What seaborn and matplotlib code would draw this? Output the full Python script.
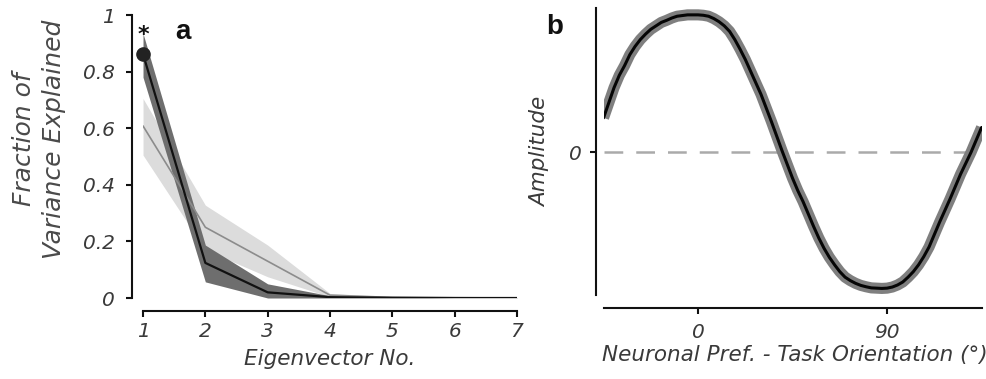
import matplotlib
matplotlib.use("Agg")
import matplotlib.pyplot as plt
import seaborn as sns

# ---------------- data ----------------
eig = [1, 2, 3, 4, 5, 6, 7]
data_mean = [0.862, 0.124, 0.020, 0.003, 0.001, 0.0, 0.0]
data_lo = [0.78, 0.057, 0.0, 0.0, 0.0, 0.0, 0.0]
data_hi = [0.935, 0.187, 0.05, 0.008, 0.003, 0.001, 0.001]
shuf_mean = [0.608, 0.250, 0.130, 0.010, 0.002, 0.001, 0.0]
shuf_lo = [0.505, 0.17, 0.075, 0.004, 0.0, 0.0, 0.0]
shuf_hi = [0.705, 0.328, 0.187, 0.016, 0.005, 0.002, 0.001]
a_yticks = [0, 0.2, 0.4, 0.6, 0.8, 1]
a_yticklabels = ["0", "0.2", "0.4", "0.6", "0.8", "1"]

theta = [-45, -42.5, -40, -37.5, -35, -32.5, -30, -27.5, -25, -22.5, -20, -17.5,
         -15, -12.5, -10, -7.5, -5, -2.5, 0, 2.5, 5, 7.5, 10, 12.5, 15, 17.5,
         20, 22.5, 25, 27.5, 30, 32.5, 35, 37.5, 40, 42.5, 45, 47.5, 50, 52.5,
         55, 57.5, 60, 62.5, 65, 67.5, 70, 72.5, 75, 77.5, 80, 82.5, 85, 87.5,
         90, 92.5, 95, 97.5, 100, 102.5, 105, 107.5, 110, 112.5, 115, 117.5,
         120, 122.5, 125, 127.5, 130, 132.5, 135]
amp = [0.25, 0.36, 0.47, 0.56, 0.63, 0.71, 0.77, 0.82, 0.86, 0.895, 0.92, 0.945,
       0.96, 0.977, 0.99, 0.995, 1.0, 1.0, 1.0, 0.997, 0.99, 0.973, 0.95, 0.92,
       0.88, 0.82, 0.75, 0.675, 0.59, 0.505, 0.42, 0.32, 0.22, 0.115, 0.01,
       -0.09, -0.19, -0.28, -0.36, -0.45, -0.54, -0.625, -0.70, -0.765, -0.82,
       -0.87, -0.91, -0.935, -0.955, -0.97, -0.98, -0.988, -0.99, -0.992,
       -0.99, -0.982, -0.967, -0.945, -0.91, -0.87, -0.82, -0.76, -0.69,
       -0.60, -0.51, -0.425, -0.34, -0.25, -0.16, -0.08, 0.00, 0.09, 0.18]
b_xticks = [0, 90]

# ---------------- style ----------------
sns.set_style("ticks")
plt.rcParams["font.family"] = ["DejaVu Sans"]
plt.rcParams["font.style"] = "italic"
TXT = "#3a3a3a"

fig = plt.figure(figsize=(9.87, 3.79), dpi=100)
axA = fig.add_axes([0.1449, 0.2137, 0.3789, 0.7467])
axB = fig.add_axes([0.6115, 0.2216, 0.3830, 0.7573])

# ---------------- panel a ----------------
axA.fill_between(eig, shuf_lo, shuf_hi, color="#dcdcdc", lw=0, zorder=1)
axA.fill_between(eig, data_lo, data_hi, color="#6e6e6e", lw=0, zorder=2)
sns.lineplot(x=eig, y=shuf_mean, ax=axA, color="#8c8c8c", lw=1.2, zorder=3)
sns.lineplot(x=eig, y=data_mean, ax=axA, color="#111111", lw=1.6, zorder=4)
axA.plot(eig[0], data_mean[0], "o", color="#222222", ms=9.5, clip_on=False, zorder=5)
axA.text(eig[0], 0.93, "*", ha="center", va="center", fontsize=16,
         fontweight="bold", fontstyle="normal", color="#111111")
axA.set_xlim(1, 7)
axA.set_ylim(0, 1)
axA.set_xticks(eig)
axA.set_xticklabels([str(e) for e in eig])
axA.set_yticks(a_yticks)
axA.set_yticklabels(a_yticklabels)
for s in ["top", "right"]:
    axA.spines[s].set_visible(False)
axA.spines["left"].set_position(("outward", 8))
axA.spines["bottom"].set_position(("outward", 9.5))
axA.set_xlabel("Eigenvector No.", fontsize=15.5, color=TXT)
axA.set_ylabel("Fraction of\nVariance Explained", fontsize=18, color="#4a4a4a",
               linespacing=1.35)
axA.xaxis.set_label_coords(0.5, -0.18)
axA.yaxis.set_label_coords(-0.205, 0.56)
axA.text(0.107, 0.94, "a", transform=axA.transAxes, fontsize=20, fontweight="bold",
         fontstyle="normal", family=["Liberation Sans"], color="#111111",
         ha="center", va="center")

# ---------------- panel b ----------------
axB.axhline(0, color="#aaaaaa", lw=1.8, dashes=(7.5, 5.2), zorder=1)
sns.lineplot(x=theta, y=amp, ax=axB, color="#7f7f7f", lw=8, zorder=2,
             solid_capstyle="butt", solid_joinstyle="round")
sns.lineplot(x=theta, y=amp, ax=axB, color="#050505", lw=2.2, zorder=3,
             solid_joinstyle="round")
axB.set_xlim(-45, 135)
axB.set_ylim(-1.04, 1.05)
axB.set_xticks(b_xticks)
axB.set_xticklabels([str(t) for t in b_xticks])
axB.set_yticks([0])
axB.set_yticklabels(["0"])
for s in ["top", "right"]:
    axB.spines[s].set_visible(False)
axB.spines["left"].set_position(("outward", 5.5))
axB.spines["bottom"].set_position(("outward", 9.5))
axB.set_xlabel("Neuronal Pref. - Task Orientation (°)", fontsize=15.5, color=TXT)
axB.set_ylabel("Amplitude", fontsize=15.5, color=TXT)
axB.xaxis.set_label_coords(0.505, -0.175)
axB.yaxis.set_label_coords(-0.14, 0.5)
axB.text(-0.13, 0.935, "b", transform=axB.transAxes, fontsize=20, fontweight="bold",
         fontstyle="normal", family=["Liberation Sans"], color="#111111",
         ha="center", va="center")

for ax in (axA, axB):
    for s in ["left", "bottom"]:
        ax.spines[s].set_linewidth(1.5)
        ax.spines[s].set_color("#111111")
    ax.tick_params(axis="both", length=4, width=1.5, color="#111111",
                   labelsize=14.5, labelcolor=TXT)
    ax.set_facecolor("white")
    if ax.legend_:
        ax.legend_.remove()

axA.tick_params(axis="y", pad=8)
axA.tick_params(axis="x", pad=4)
axB.tick_params(axis="x", pad=7)
axB.tick_params(axis="y", pad=6)

fig.savefig("out.png", dpi=100, facecolor="white")
